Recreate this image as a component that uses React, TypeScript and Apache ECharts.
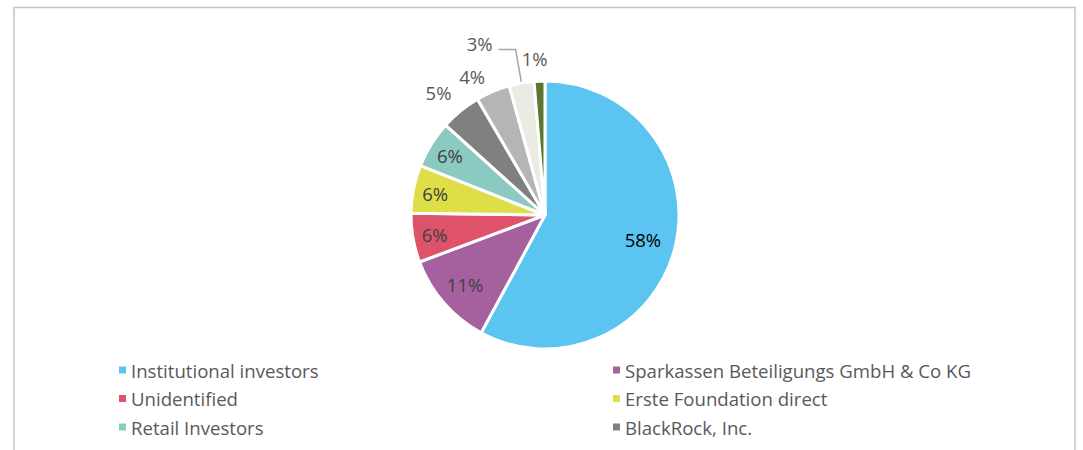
import React, { useEffect, useRef } from "react";
import * as echarts from "echarts";

const categories = [
  "Institutional investors",
  "Sparkassen Beteiligungs GmbH & Co KG",
  "Unidentified",
  "Erste Foundation direct",
  "Retail Investors",
  "BlackRock, Inc.",
  "Capital Research and Management",
  "Employees",
  "Treasury shares",
];
const shares = [57.9, 11.4, 5.9, 5.8, 5.7, 4.9, 4.1, 3.0, 1.3];
const colors = [
  "#5BC4F1",
  "#A4619E",
  "#DF536A",
  "#DEDF48",
  "#8ACAC0",
  "#808080",
  "#B5B5B5",
  "#EBEBE3",
  "#5A7631",
];
const legendLeft = ["Institutional investors", "Unidentified", "Retail Investors"];
const legendRight = ["Sparkassen Beteiligungs GmbH & Co KG", "Erste Foundation direct", "BlackRock, Inc."];

const FONT = "'Open Sans', 'Noto Sans', sans-serif";
const CENTER = [545, 215];
const R = 134;
const FS = 18.5;

const fmt = (p: any) => `${Math.round(p.value)}%`;
// label sitting above its leader line: an empty second line lifts it half a line
const fmtAbove = (p: any) => `${Math.round(p.value)}%\n`;

// outside label tuning per small slice
const outsideCfg: Record<number, { len: number; len2: number; dist: number; line: boolean; above?: boolean }> = {
  5: { len: 24, len2: 0, dist: -6, line: false },
  6: { len: 16, len2: 0, dist: 1.6, line: false },
  7: { len: 34, len2: 17, dist: 6, line: true, above: true },
  8: { len: 23, len2: 0, dist: -9, line: false },
};

const labelRing = (mid: number, show: number[]) => ({
  type: "pie",
  center: CENTER,
  radius: [mid - 30, mid + 30],
  silent: true,
  startAngle: 90,
  avoidLabelOverlap: false,
  itemStyle: { color: "transparent", borderWidth: 0 },
  emphasis: { disabled: true },
  labelLine: { show: false },
  data: categories.map((name, i) => ({
    name,
    value: shares[i],
    label: {
      show: show.includes(i),
      position: "inside",
      formatter: fmt,
      color: i === 0 ? "#000000" : "#404040",
      fontSize: FS,
      fontFamily: FONT,
    },
  })),
});

export default function App() {
  const ref = useRef<HTMLDivElement>(null);
  useEffect(() => {
    if (!ref.current) return;
    const chart = echarts.init(ref.current, undefined, { renderer: "svg" });
    const mainData = categories.map((name, i) => {
      const c = outsideCfg[i];
      return {
        name,
        value: shares[i],
        itemStyle: { color: colors[i] },
        label: c
          ? {
              show: true,
              position: "outside",
              formatter: c.above ? fmtAbove : fmt,
              distanceToLabelLine: c.dist,
              color: "#595959",
              fontSize: FS,
              fontFamily: FONT,
              lineHeight: c.above ? 12 : undefined,
            }
          : { show: false },
        labelLine: c
          ? { show: c.line, length: c.len, length2: c.len2, lineStyle: { color: "#A6A6A6", width: 1.5 } }
          : { show: false },
      };
    });
    const legendCommon = {
      orient: "vertical",
      top: 355,
      icon: "rect",
      itemWidth: 7,
      itemHeight: 7,
      itemGap: 8.5,
      selectedMode: false,
      itemStyle: { borderWidth: 0 },
      textStyle: { color: "#595959", fontSize: 18.6, fontFamily: FONT, lineHeight: 20 },
    };
    chart.setOption({
      animation: false,
      graphic: [
        {
          type: "rect",
          shape: { x: 14, y: 7.5, width: 1061, height: 500 },
          style: { fill: "none", stroke: "#C4C4C4", lineWidth: 1.5 },
          silent: true,
        },
      ],
      legend: [
        { ...legendCommon, left: 114, data: legendLeft },
        { ...legendCommon, left: 608, data: legendRight },
      ],
      series: [
        {
          type: "pie",
          center: CENTER,
          radius: R,
          startAngle: 90,
          clockwise: true,
          avoidLabelOverlap: false,
          itemStyle: { borderColor: "#ffffff", borderWidth: 3 },
          emphasis: { disabled: true },
          data: mainData,
        },
        labelRing(98, [0]),
        labelRing(103, [1]),
        labelRing(109, [2, 3, 4]),
      ],
    });
    return () => chart.dispose();
  }, []);
  return (
    <div
      ref={ref}
      style={{ position: "fixed", left: 0, top: 0, width: 1083, height: 450, background: "#ffffff" }}
    />
  );
}
